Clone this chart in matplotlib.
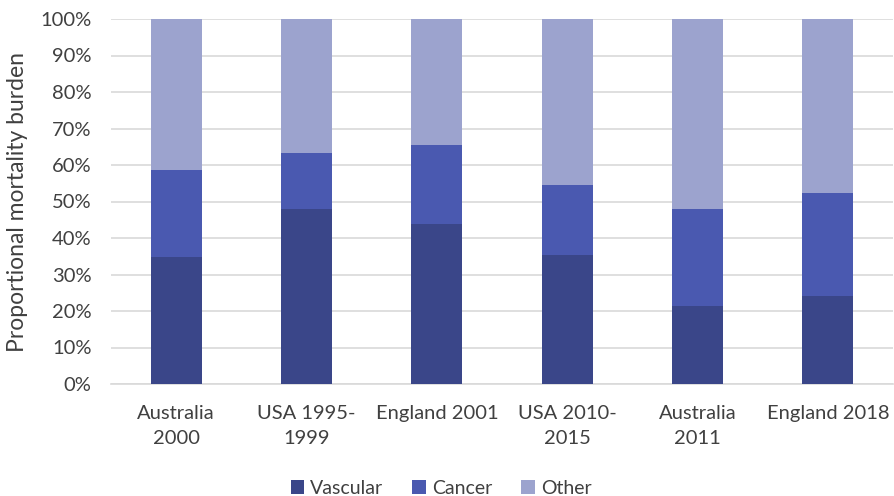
import matplotlib
matplotlib.use("Agg")
import matplotlib.pyplot as plt
import numpy as np
from matplotlib.ticker import FuncFormatter

plt.rcParams['font.family'] = ['Lato', 'DejaVu Sans']

categories = ["Australia\n2000", "USA 1995-\n1999", "England 2001", "USA 2010-\n2015", "Australia\n2011", "England 2018"]
vascular = [34.9, 47.9, 43.8, 35.3, 21.4, 24.1]
cancer = [23.8, 15.4, 21.6, 19.1, 26.6, 28.1]
other = [100 - v - c for v, c in zip(vascular, cancer)]

series_names = ["Vascular", "Cancer", "Other"]
colors = ["#3A4689", "#4A59B0", "#9CA3CE"]

fig = plt.figure(figsize=(8.95, 4.96), dpi=100)
ax = fig.add_axes([111/895, 1 - 384/496, (893 - 111)/895, (384 - 19)/496])

x = np.arange(len(categories))
w = 0.39
bottom = np.zeros(len(categories))
for vals, name, col in zip([vascular, cancer, other], series_names, colors):
    ax.bar(x, vals, w, bottom=bottom, color=col, label=name, zorder=3)
    bottom += np.array(vals)

ax.set_xlim(-0.5, len(categories) - 0.5)
ax.set_ylim(0, 100)
ax.set_yticks(np.arange(0, 101, 10))
ax.yaxis.set_major_formatter(FuncFormatter(lambda v, p: f"{int(v)}%"))
ax.set_xticks(x)
ax.set_xticklabels(categories, fontsize=14.5, color="#404040", linespacing=1.6)
ax.tick_params(axis='y', labelsize=14.5, colors="#404040", length=0, pad=14)
ax.tick_params(axis='x', length=0, pad=15)
ax.grid(axis='y', color="#D9D9D9", linewidth=1.2, zorder=0)
for s in ["top", "right", "left"]:
    ax.spines[s].set_visible(False)
ax.spines["bottom"].set_color("#D9D9D9")
ax.spines["bottom"].set_linewidth(1.2)

fig.text(18/895, 1 - 201.5/496, "Proportional mortality burden", rotation=90,
         ha="center", va="center", fontsize=16.5, color="#404040")

leg = fig.legend(loc="center", bbox_to_anchor=(441/895, 1 - 488/496), ncol=3, frameon=False,
                 fontsize=14, handlelength=0.7, handleheight=0.7, handletextpad=0.3,
                 columnspacing=1.5)
for t in leg.get_texts():
    t.set_color("#404040")

fig.savefig("out.png", dpi=100)
